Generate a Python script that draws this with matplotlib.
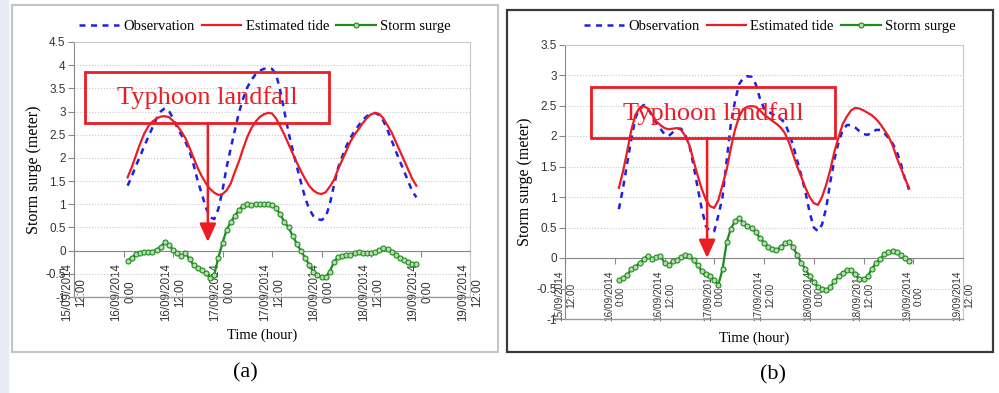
import matplotlib
matplotlib.use("Agg")
import matplotlib.pyplot as plt
import numpy as np
import pandas as pd
from matplotlib.patches import Rectangle

# hourly data, 16/09/2014 01:00 .. 18/09/2014 23:00
times = pd.date_range("2014-09-16 01:00", periods=71, freq="h")

obs_a = [1.40, 1.60, 1.83, 2.03, 2.25, 2.45, 2.65, 2.85, 3.00, 3.07,
         3.02, 2.85, 2.66, 2.50, 2.35, 2.15, 1.85, 1.50, 1.22, 0.92,
         0.72, 0.68, 0.90, 1.30, 1.80, 2.21, 2.60, 2.98, 3.28, 3.52,
         3.68, 3.80, 3.88, 3.92, 3.94, 3.92, 3.80, 3.45, 3.00, 2.55,
         2.18, 1.82, 1.48, 1.15, 0.90, 0.75, 0.68, 0.66, 0.72, 1.00,
         1.40, 1.78, 2.02, 2.25, 2.43, 2.58, 2.70, 2.82, 2.90, 2.95,
         2.97, 2.92, 2.80, 2.60, 2.38, 2.15, 1.93, 1.72, 1.50, 1.28,
         1.15]
tide_a = [1.58, 1.80, 2.05, 2.30, 2.52, 2.68, 2.78, 2.85, 2.89, 2.90,
          2.88, 2.80, 2.70, 2.57, 2.43, 2.22, 2.00, 1.78, 1.60, 1.45,
          1.33, 1.25, 1.20, 1.22, 1.30, 1.45, 1.70, 1.93, 2.20, 2.45,
          2.64, 2.78, 2.88, 2.94, 2.97, 2.96, 2.85, 2.68, 2.50, 2.30,
          2.10, 1.90, 1.72, 1.55, 1.40, 1.30, 1.24, 1.22, 1.26, 1.38,
          1.52, 1.75, 1.95, 2.15, 2.35, 2.50, 2.62, 2.75, 2.86, 2.94,
          2.97, 2.95, 2.85, 2.70, 2.55, 2.35, 2.15, 1.95, 1.75, 1.55,
          1.40]
surge_a = [-0.22, -0.15, -0.08, -0.05, -0.04, -0.02, -0.02, 0.02, 0.08, 0.18,
           0.12, 0.02, -0.06, -0.12, -0.05, -0.18, -0.32, -0.38, -0.42, -0.48,
           -0.60, -0.52, -0.15, 0.17, 0.45, 0.62, 0.75, 0.88, 0.97, 1.00,
           0.98, 1.00, 1.00, 1.00, 1.00, 0.98, 0.92, 0.78, 0.62, 0.50,
           0.32, 0.15, 0.00, -0.15, -0.30, -0.45, -0.52, -0.57, -0.57, -0.45,
           -0.25, -0.13, -0.12, -0.10, -0.10, -0.05, -0.02, -0.05, -0.05, -0.05,
           -0.03, 0.02, 0.05, 0.03, -0.04, -0.10, -0.15, -0.20, -0.24, -0.28,
           -0.28]

obs_b = [0.80, 1.15, 1.55, 1.95, 2.30, 2.45, 2.51, 2.45, 2.33, 2.22,
         2.12, 2.03, 2.00, 2.06, 2.12, 2.12, 2.02, 1.85, 1.52, 1.15,
         0.80, 0.52, 0.43, 0.44, 0.70, 1.00, 1.60, 2.20, 2.57, 2.85,
         2.95, 2.98, 2.97, 2.85, 2.62, 2.45, 2.40, 2.36, 2.32, 2.28,
         2.22, 2.05, 1.85, 1.60, 1.35, 1.08, 0.75, 0.50, 0.44, 0.55,
         0.82, 1.25, 1.62, 1.90, 2.10, 2.18, 2.18, 2.14, 2.08, 2.03,
         2.02, 2.05, 2.10, 2.10, 2.05, 1.97, 1.88, 1.75, 1.55, 1.30,
         1.12]
tide_b = [1.15, 1.42, 1.75, 2.10, 2.35, 2.46, 2.49, 2.45, 2.35, 2.24,
          2.18, 2.13, 2.11, 2.12, 2.13, 2.10, 2.00, 1.85, 1.60, 1.35,
          1.13, 0.95, 0.85, 0.82, 0.95, 1.20, 1.45, 1.80, 2.10, 2.32,
          2.44, 2.48, 2.49, 2.48, 2.42, 2.35, 2.30, 2.25, 2.20, 2.14,
          2.05, 1.90, 1.70, 1.50, 1.33, 1.15, 1.00, 0.90, 0.87, 1.00,
          1.20, 1.45, 1.75, 1.98, 2.20, 2.32, 2.42, 2.46, 2.45, 2.42,
          2.38, 2.34, 2.28, 2.20, 2.10, 2.00, 1.85, 1.65, 1.48, 1.30,
          1.15]
surge_b = [-0.36, -0.33, -0.28, -0.18, -0.14, -0.08, -0.02, 0.04, -0.02, 0.02,
           0.03, -0.08, -0.12, -0.05, -0.04, 0.02, 0.05, 0.03, -0.03, -0.12,
           -0.22, -0.26, -0.30, -0.36, -0.44, -0.18, 0.26, 0.48, 0.60, 0.66,
           0.57, 0.52, 0.50, 0.42, 0.33, 0.25, 0.18, 0.14, 0.13, 0.18,
           0.24, 0.27, 0.18, 0.05, -0.08, -0.18, -0.30, -0.40, -0.47, -0.50,
           -0.52, -0.48, -0.38, -0.30, -0.24, -0.20, -0.20, -0.26, -0.34, -0.35,
           -0.30, -0.18, -0.08, -0.02, 0.06, 0.10, 0.11, 0.10, 0.05, 0.00,
           -0.05]

tick_times = pd.date_range("2014-09-15 12:00", "2014-09-19 12:00", freq="12h")
tick_labels = ["15/09/2014\n12:00", "16/09/2014\n0:00", "16/09/2014\n12:00",
               "17/09/2014\n0:00", "17/09/2014\n12:00", "18/09/2014\n0:00",
               "18/09/2014\n12:00", "19/09/2014\n0:00", "19/09/2014\n12:00"]

SERIF = "Liberation Serif"
SANS = "Liberation Sans"
BLUE = "#1f1fe6"
RED = "#ec1c24"
GREEN = "#1e8c1e"

fig = plt.figure(figsize=(9.99, 3.93), dpi=100)
W, H = 999, 393


def px_rect(x0, y0, x1, y1):
    return [x0 / W, 1 - y1 / H, (x1 - x0) / W, (y1 - y0) / H]


# light strip at the left edge and the two panel frames
fig.patches.append(Rectangle((0, 0), 8 / W, 1, transform=fig.transFigure,
                             color="#e8eaf6", zorder=0))
fig.patches.append(Rectangle((12 / W, 1 - 352 / H), 486 / W, 347 / H,
                             transform=fig.transFigure, fill=False,
                             edgecolor="#c4c4c4", lw=1.5, zorder=1))
fig.patches.append(Rectangle((507 / W, 1 - 352 / H), 486 / W, 342 / H,
                             transform=fig.transFigure, fill=False,
                             edgecolor="#3a3a3a", lw=1.6, zorder=1))


def draw_panel(rect, obs, tide, surge, ymax, box, txt, arrow, xlab_y, xt_size,
               leg_xy, tag, tag_xy):
    ax = fig.add_axes(px_rect(*rect))
    # x axis crosses at zero (set before the ticks, it resets them)
    ax.spines["bottom"].set_position(("data", 0))

    ax.plot(times, obs, color=BLUE, lw=1.8, ls=(0, (2.4, 2.2)), label="Observation", zorder=4)
    ax.plot(times, tide, color=RED, lw=1.6, label="Estimated tide", zorder=4)
    ax.plot(times, surge, color=GREEN, lw=1.6, marker="o", ms=3.6, mfc="#b8dcb0",
            mec=GREEN, mew=0.8, label="Storm surge", zorder=4)

    ax.set_xlim(tick_times[0], tick_times[-1])
    ax.set_ylim(-1, ymax)
    yt = np.arange(-1, ymax + 0.01, 0.5)
    ax.set_yticks(yt)
    ax.set_yticklabels([f"{v:g}" for v in yt], fontfamily=SANS, fontsize=8.5,
                       color="#333333")
    ax.set_xticks(tick_times)
    ax.set_xticklabels(tick_labels, rotation=90, fontfamily=SANS, fontsize=xt_size,
                       color="#333333", ha="center", va="top", multialignment="center")
    ax.tick_params(axis="x", direction="out", length=4, color="#888888", pad=5)
    ax.tick_params(axis="y", direction="out", length=4, color="#888888", pad=2)

    ax.spines["bottom"].set_color("#888888")
    ax.spines["left"].set_color("#888888")
    ax.spines["top"].set_color("#c8c8c8")
    ax.spines["right"].set_color("#c8c8c8")
    ax.axhline(-1, color="#9a9a9a", lw=1.0, clip_on=False, zorder=3)
    ax.grid(axis="y", color="#c8c8c8", ls=":", lw=0.8)
    ax.set_axisbelow(True)

    ax.set_ylabel("Storm surge (meter)", fontfamily=SERIF, fontsize=11.5)
    ax.yaxis.set_label_coords(-0.08, 0.5)
    ax.set_xlabel("Time (hour)", fontfamily=SERIF, fontsize=10.5)
    ax.xaxis.set_label_coords(0.475, xlab_y)

    x0, y0, x1, y1 = box
    ax.add_patch(Rectangle((x0, y0), x1 - x0, y1 - y0, transform=ax.transAxes,
                           fill=False, edgecolor=RED, lw=2.0, zorder=5, clip_on=False))
    ax.text(txt[0], txt[1], "Typhoon landfall", transform=ax.transAxes,
            ha="center", va="center", fontfamily=SERIF, fontsize=19, color=RED, zorder=5)
    ax.annotate("", xy=(arrow[0], arrow[2]), xytext=(arrow[0], arrow[1]),
                xycoords="axes fraction", textcoords="axes fraction",
                arrowprops=dict(arrowstyle="-|>,head_length=1.1,head_width=0.5",
                                color=RED, lw=1.8, mutation_scale=10,
                                shrinkA=0, shrinkB=0), zorder=6)

    fig.legend(handles=ax.get_lines()[:3], loc="center", bbox_to_anchor=leg_xy,
               ncol=3, frameon=False, prop={"family": SERIF, "size": 10.5},
               handlelength=2.7, handletextpad=0.3, columnspacing=0.5)
    fig.text(tag_xy[0], tag_xy[1], tag, ha="center", va="center",
             fontfamily=SERIF, fontsize=16)
    return ax


draw_panel((74, 42, 470, 297), obs_a, tide_a, surge_a, 4.5,
           (0.028, 0.682, 0.644, 0.882), (0.336, 0.784), (0.338, 0.682, 0.216),
           -0.125, 8.3, (265 / W, 1 - 26 / H), "(a)", (245 / W, 1 - 373 / H))
draw_panel((565, 44.5, 963, 319), obs_b, tide_b, surge_b, 3.5,
           (0.065, 0.659, 0.678, 0.845), (0.372, 0.750), (0.357, 0.659, 0.222),
           -0.045, 7.2, (770 / W, 1 - 26 / H), "(b)", (773 / W, 1 - 375 / H))

fig.savefig("out.png", dpi=100)
